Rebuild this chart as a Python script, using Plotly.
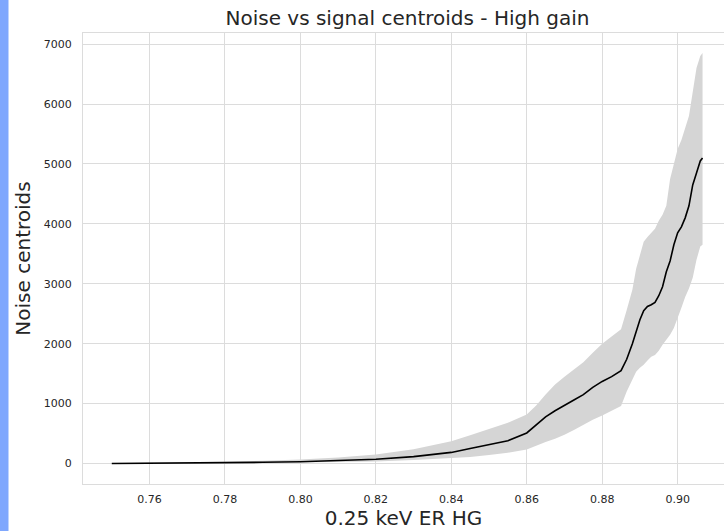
import plotly.graph_objects as go

# ---- data ----
x_vals = [0.750, 0.760, 0.770, 0.780, 0.790, 0.800, 0.810, 0.820, 0.830, 0.840,
          0.845, 0.850, 0.855, 0.860, 0.8625, 0.865, 0.8675, 0.870, 0.8725, 0.875,
          0.8775, 0.880, 0.8825, 0.885, 0.8865, 0.888, 0.889, 0.890, 0.891, 0.892,
          0.893, 0.894, 0.895, 0.896, 0.897, 0.898, 0.899, 0.900, 0.901, 0.902,
          0.903, 0.904, 0.905, 0.906, 0.9066]

median_vals = [0, 2, 5, 10, 20, 30, 45, 70, 115, 185,
               250, 320, 380, 510, 640, 780, 880, 965, 1060, 1150,
               1270, 1370, 1450, 1550, 1740, 2000, 2200, 2400, 2550, 2620,
               2650, 2690, 2800, 2950, 3200, 3380, 3650, 3850, 3950, 4100,
               4300, 4650, 4850, 5050, 5100]

upper_vals = [5, 10, 18, 30, 45, 65, 100, 150, 240, 370,
              470, 580, 680, 820, 970, 1150, 1320, 1450, 1570, 1690,
              1850, 2000, 2120, 2240, 2560, 2900, 3250, 3500, 3700, 3780,
              3850, 3920, 4050, 4150, 4300, 4750, 5000, 5250, 5400, 5600,
              5800, 6200, 6600, 6800, 6850]

lower_vals = [-5, -3, 0, 3, 10, 15, 25, 35, 60, 95,
              110, 140, 180, 235, 300, 360, 415, 480, 560, 650,
              730, 800, 880, 960, 1200, 1400, 1530, 1600, 1650, 1720,
              1780, 1810, 1880, 1980, 2060, 2150, 2260, 2420, 2600, 2780,
              2920, 3100, 3400, 3620, 3650]

x_ticks = [0.76, 0.78, 0.80, 0.82, 0.84, 0.86, 0.88, 0.90]
x_tick_text = ["0.76", "0.78", "0.80", "0.82", "0.84", "0.86", "0.88", "0.90"]
y_ticks = [0, 1000, 2000, 3000, 4000, 5000, 6000, 7000]

FONT = "DejaVu Sans"
TXT = "#262626"
GRID = "#dcdcdc"

fig = go.Figure()
fig.add_trace(go.Scatter(x=x_vals, y=lower_vals, mode="lines", line=dict(width=0),
                         showlegend=False, hoverinfo="skip"))
fig.add_trace(go.Scatter(x=x_vals, y=upper_vals, mode="lines", line=dict(width=0),
                         fill="tonexty", fillcolor="#d5d5d5", showlegend=False, hoverinfo="skip"))
fig.add_trace(go.Scatter(x=x_vals, y=median_vals, mode="lines",
                         line=dict(color="black", width=1.6), showlegend=False))

fig.update_layout(
    width=724, height=531,
    margin=dict(l=83, r=0, t=33, b=47),
    paper_bgcolor="white", plot_bgcolor="white",
    font=dict(family=FONT, color=TXT),
    title=dict(text="Noise vs signal centroids - High gain", x=0.5628, xref="container",
               xanchor="center", y=0.966, yref="container", yanchor="middle",
               font=dict(size=20, color=TXT, family=FONT)),
    xaxis=dict(range=[0.74237, 0.91229], tickvals=x_ticks, ticktext=x_tick_text,
               showgrid=True, gridcolor=GRID, gridwidth=1, zeroline=False,
               showline=True, linecolor=GRID, mirror=True,
               ticks="outside", ticklen=5, tickcolor="rgba(0,0,0,0)",
               tickfont=dict(size=11, color=TXT, family=FONT),
               title=dict(text="0.25 keV ER HG", font=dict(size=20, color=TXT, family=FONT), standoff=4)),
    yaxis=dict(range=[-342, 7185], tickvals=y_ticks,
               showgrid=True, gridcolor=GRID, gridwidth=1, zeroline=False,
               showline=True, linecolor=GRID, mirror=True,
               ticks="outside", ticklen=8, tickcolor="rgba(0,0,0,0)",
               tickfont=dict(size=11, color=TXT, family=FONT),
               title=dict(text="Noise centroids", font=dict(size=20, color=TXT, family=FONT), standoff=7)),
    shapes=[dict(type="rect", xref="paper", yref="paper", x0=-83/641, x1=-74.5/641,
                 y0=-47/451, y1=1 + 33/451, fillcolor="#7fa7fd", line=dict(width=0), layer="above")],
)

fig.write_html("out.html")
